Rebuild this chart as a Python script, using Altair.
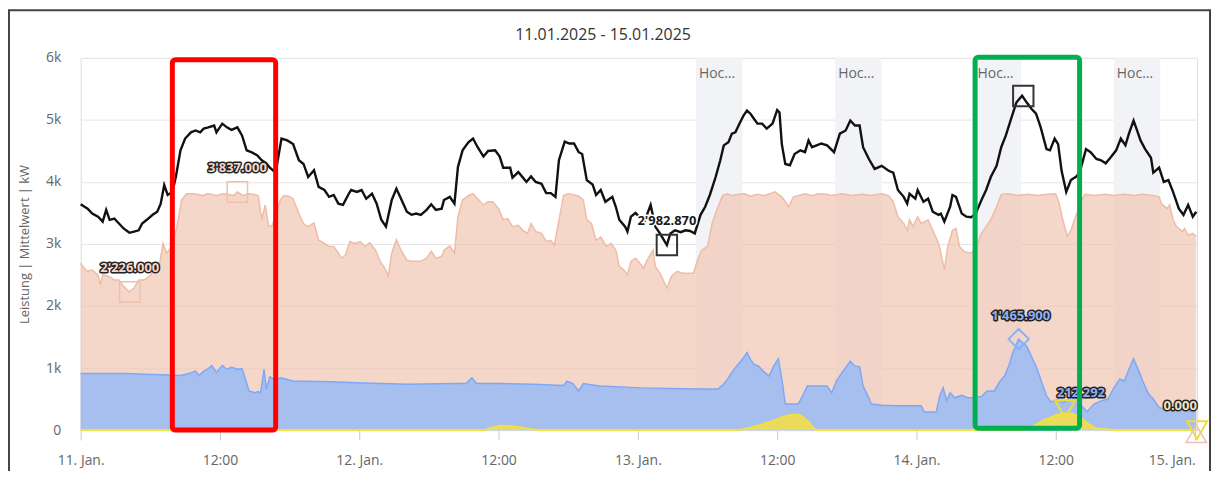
import altair as alt
import pandas as pd

# ---------------- data ----------------
TITLE = "11.01.2025 - 15.01.2025"
Y_TITLE = "Leistung | Mittelwert | kW"
TICK_HOURS = [0, 12, 24, 36, 48, 60, 72, 84, 96]
TICK_LABELS = ["11. Jan.", "12:00", "12. Jan.", "12:00", "13. Jan.", "12:00", "14. Jan.", "12:00", "15. Jan."]
Y_TICKS = [0, 1000, 2000, 3000, 4000, 5000, 6000]
Y_TICK_LABELS = ["0", "1k", "2k", "3k", "4k", "5k", "6k"]
X_MAX = 96.17
Y_MAX = 6000

BAND_START = [53, 65, 77, 89]
BAND_END = [57, 69, 81, 93]
BAND_TEXT = "Hoc\u2026"

BLACK_H = [0.0, 0.6, 1.0, 1.5, 1.9, 2.2, 2.5, 2.9, 3.3, 3.7, 4.2, 4.6, 5.0, 5.3, 5.7, 6.2, 6.6, 6.9, 7.2, 7.5,
           7.9, 8.2, 8.6, 9.0, 9.5, 9.9, 10.3, 10.6, 11.0, 11.5, 11.7, 12.2, 12.6, 13.0, 13.5, 13.9, 14.3, 14.7,
           15.2, 15.6, 16.0, 16.3, 16.8, 17.3, 17.8, 18.3, 18.8, 19.2, 19.6, 20.1, 20.5, 21.0, 21.4, 21.8, 22.2,
           22.6, 23.1, 23.3, 23.8, 24.2, 24.6, 25.1, 25.5, 25.9, 26.3, 26.8, 27.2, 27.6, 28.1, 28.5, 28.9, 29.3,
           29.8, 30.2, 30.6, 31.1, 31.3, 31.8, 32.2, 32.5, 32.9, 33.4, 33.8, 34.2, 34.7, 35.1, 35.7, 36.1, 36.4,
           37.0, 37.2, 37.7, 38.1, 38.4, 38.8, 39.2, 39.7, 40.1, 40.5, 40.9, 41.2, 41.7, 42.1, 42.5, 42.9, 43.2,
           43.6, 44.1, 44.4, 44.8, 45.2, 45.8, 46.1, 46.4, 46.9, 47.1, 47.4, 47.8, 48.1, 48.5, 49.1, 49.5, 49.9,
           50.5, 50.8, 51.2, 51.7, 52.1, 52.5, 52.9, 53.4, 53.8, 54.2, 54.7, 55.1, 55.4, 55.8, 56.1, 56.4, 56.8,
           57.1, 57.4, 57.7, 58.0, 58.3, 58.7, 59.1, 59.6, 60.0, 60.2, 60.4, 60.7, 61.1, 61.5, 62.0, 62.4, 62.7,
           63.0, 63.4, 63.8, 64.3, 64.9, 65.4, 65.9, 66.3, 66.7, 67.1, 67.4, 67.9, 68.4, 69.0, 69.6, 70.0, 70.4,
           70.9, 71.2, 71.4, 71.9, 72.1, 72.6, 73.0, 73.4, 73.9, 74.1, 74.4, 74.9, 75.1, 75.4, 75.9, 76.3, 76.7,
           77.1, 77.6, 78.0, 78.4, 78.9, 79.3, 79.7, 80.1, 80.6, 81.1, 81.5, 81.9, 82.3, 82.7, 83.2, 83.5, 83.9,
           84.2, 84.5, 84.9, 85.3, 85.8, 86.1, 86.6, 87.0, 87.5, 87.9, 88.3, 88.7, 89.2, 89.6, 90.0, 90.3, 90.7,
           91.0, 91.3, 91.7, 92.2, 92.4, 92.9, 93.3, 93.7, 94.1, 94.6, 95.0, 95.4, 95.8, 96.1]
BLACK_V = [3640, 3570, 3490, 3440, 3360, 3550, 3390, 3410, 3330, 3250, 3180, 3200, 3220, 3330, 3390, 3470, 3520,
           3650, 3950, 3790, 3840, 4080, 4510, 4700, 4800, 4830, 4800, 4860, 4880, 4910, 4800, 4940, 4880, 4840,
           4880, 4750, 4510, 4480, 4430, 4350, 4300, 4230, 4150, 4700, 4670, 4610, 4350, 4290, 4080, 4190, 3920,
           3870, 3760, 3790, 3650, 3630, 3810, 3870, 3840, 3870, 3730, 3810, 3650, 3390, 3280, 3710, 3890, 3730,
           3520, 3470, 3490, 3470, 3550, 3640, 3550, 3570, 3710, 3760, 3650, 4240, 4510, 4640, 4700, 4560, 4410,
           4500, 4510, 4410, 4230, 4230, 4070, 4160, 4070, 4000, 4090, 4000, 3970, 3820, 3820, 3760, 4350, 4650,
           4620, 4620, 4480, 4450, 4030, 3960, 3790, 3870, 3680, 3760, 3600, 3390, 3280, 3200, 3440, 3500, 3440,
           3330, 3630, 3280, 3170, 2983, 3170, 3220, 3190, 3220, 3210, 3170, 3470, 3600, 3790, 4080, 4350, 4590,
           4640, 4780, 4800, 4960, 5070, 5150, 5100, 5020, 4940, 4940, 4860, 4940, 5160, 5120, 4610, 4290, 4270,
           4450, 4510, 4480, 4670, 4560, 4590, 4620, 4590, 4480, 4780, 4830, 4990, 4910, 4910, 4560, 4370, 4210,
           4260, 4180, 4150, 3870, 3760, 3650, 3810, 3730, 3870, 3680, 3730, 3520, 3470, 3490, 3360, 3600, 3790,
           3760, 3490, 3440, 3430, 3490, 3710, 3870, 4080, 4260, 4560, 4750, 4990, 5280, 5390, 5280, 5180, 5100,
           4880, 4530, 4510, 4700, 4610, 4180, 3840, 4030, 4090, 4180, 4530, 4480, 4370, 4350, 4300, 4390, 4510,
           4700, 4590, 4780, 4990, 4830, 4670, 4530, 4390, 4150, 4230, 4000, 4030, 3840, 3570, 3470, 3630, 3440,
           3520]

SALMON_H = [0.0, 0.3, 0.6, 1.0, 1.5, 1.7, 1.9, 2.4, 2.9, 3.3, 3.7, 4.2, 4.6, 5.0, 5.5, 5.9, 6.3, 6.7, 7.1, 7.4,
            7.8, 8.1, 8.4, 8.7, 9.1, 9.6, 10.0, 10.5, 10.9, 11.3, 11.7, 12.2, 12.6, 13.2, 13.5, 14.0, 14.4, 14.9,
            15.3, 15.6, 15.9, 16.2, 16.5, 16.9, 17.2, 17.5, 17.9, 18.3, 18.8, 19.2, 19.6, 20.1, 20.5, 21.0, 21.4,
            21.8, 22.2, 22.5, 22.8, 23.2, 23.6, 24.1, 24.5, 24.9, 25.4, 25.8, 26.2, 26.5, 26.8, 27.2, 27.6, 28.1,
            28.5, 28.9, 29.3, 29.8, 30.2, 30.6, 31.1, 31.3, 31.8, 32.2, 32.5, 32.9, 33.4, 33.8, 34.2, 34.7, 35.1,
            35.5, 36.0, 36.4, 36.8, 37.2, 37.7, 38.1, 38.5, 38.8, 39.2, 39.7, 40.1, 40.5, 40.8, 41.1, 41.6, 42.0,
            42.4, 42.9, 43.3, 43.6, 44.0, 44.4, 44.8, 45.3, 45.7, 46.1, 46.4, 46.8, 47.1, 47.4, 47.8, 48.3, 48.5,
            48.8, 49.3, 49.5, 49.9, 50.5, 50.9, 51.4, 51.8, 52.3, 52.8, 53.1, 53.5, 54.0, 54.4, 54.8, 55.3, 55.7,
            56.1, 56.7, 57.2, 57.7, 58.3, 58.8, 59.4, 59.8, 60.4, 61.0, 61.4, 61.8, 62.4, 63.0, 63.5, 64.3, 64.7,
            65.6, 66.4, 67.3, 68.1, 69.0, 69.6, 70.0, 70.4, 70.9, 71.2, 71.4, 71.7, 72.1, 72.4, 73.0, 73.4, 73.9,
            74.1, 74.4, 74.7, 75.1, 75.4, 75.7, 76.1, 76.7, 77.1, 77.6, 78.0, 78.4, 78.9, 79.3, 79.9, 80.7, 81.6,
            82.4, 83.3, 84.0, 84.3, 84.6, 85.0, 85.3, 85.8, 86.2, 86.5, 87.3, 88.2, 89.0, 89.9, 90.7, 91.5, 92.4,
            92.9, 93.1, 93.6, 93.8, 94.1, 94.4, 94.9, 95.1, 95.4, 95.8, 96.1]
SALMON_V = [2690, 2610, 2560, 2580, 2500, 2340, 2500, 2480, 2420, 2420, 2320, 2226, 2290, 2420, 2420, 2480, 2560,
            2580, 3010, 2850, 2950, 3100, 3390, 3710, 3810, 3810, 3800, 3780, 3810, 3800, 3780, 3810, 3800, 3780,
            3837, 3780, 3810, 3800, 3780, 3390, 3630, 3280, 3300, 3500, 3710, 3780, 3770, 3730, 3490, 3330, 3280,
            3340, 3060, 3010, 2960, 2960, 2850, 2770, 2820, 3040, 3010, 3040, 2960, 3020, 2900, 2720, 2610, 2480,
            2850, 3070, 2900, 2740, 2720, 2720, 2720, 2770, 2880, 2770, 2800, 2900, 2970, 2850, 3440, 3710, 3780,
            3810, 3730, 3630, 3680, 3680, 3570, 3390, 3410, 3280, 3300, 3220, 3170, 3330, 3200, 3170, 3040, 3060,
            2980, 3280, 3780, 3810, 3800, 3770, 3710, 3390, 3330, 3060, 3110, 2960, 3010, 2900, 2640, 2580, 2500,
            2720, 2770, 2660, 2610, 2740, 2900, 2640, 2530, 2290, 2480, 2560, 2530, 2530, 2530, 2720, 2900, 2960,
            3330, 3550, 3780, 3810, 3780, 3800, 3810, 3770, 3800, 3780, 3810, 3840, 3760, 3600, 3760, 3780, 3810,
            3780, 3810, 3800, 3780, 3810, 3780, 3800, 3780, 3810, 3780, 3680, 3440, 3330, 3220, 3390, 3280, 3440,
            3330, 3390, 3220, 3010, 2850, 2580, 2960, 3220, 3250, 2960, 2880, 2850, 2930, 3170, 3280, 3390, 3600,
            3800, 3810, 3780, 3800, 3780, 3800, 3810, 3650, 3390, 3120, 3220, 3490, 3700, 3800, 3780, 3800, 3780,
            3800, 3780, 3800, 3780, 3760, 3650, 3570, 3630, 3390, 3280, 3200, 3250, 3140, 3170, 3120]

BLUE_H = [0.0, 2.6, 4.0, 5.5, 6.9, 8.6, 9.1, 9.6, 9.9, 10.2, 10.6, 11.0, 11.3, 11.7, 12.2, 12.6, 13.0, 13.5,
          13.9, 14.2, 14.5, 15.0, 15.3, 15.5, 15.8, 16.0, 16.3, 16.6, 17.3, 18.3, 21.5, 24.4, 28.2, 32.2, 33.2,
          33.7, 34.1, 36.1, 39.0, 41.6, 41.9, 42.4, 42.9, 43.3, 44.7, 48.3, 50.7, 53.5, 54.9, 55.4, 55.8, 56.1,
          56.5, 57.0, 57.4, 57.7, 58.0, 58.4, 58.8, 59.3, 59.7, 60.1, 60.4, 60.7, 61.3, 61.8, 62.1, 62.6, 63.1,
          63.7, 64.3, 64.7, 65.1, 65.6, 66.0, 66.3, 66.7, 67.1, 67.4, 67.9, 68.1, 69.0, 70.4, 72.4, 72.7, 73.7,
          74.0, 74.3, 74.6, 74.9, 75.3, 75.9, 76.4, 77.0, 77.6, 78.1, 78.7, 79.2, 79.6, 80.0, 80.3, 80.8, 81.5,
          81.9, 82.3, 82.7, 83.2, 83.6, 84.2, 84.6, 85.2, 85.6, 86.2, 86.7, 87.3, 87.9, 88.5, 89.0, 89.5, 89.9,
          90.3, 90.7, 91.2, 91.6, 92.0, 92.4, 92.9, 93.6, 94.7, 95.8, 96.1]
BLUE_V = [910, 910, 910, 900, 890, 880, 900, 930, 950, 880, 950, 990, 1040, 930, 1040, 980, 1010, 980, 990, 820,
          630, 600, 620, 600, 980, 660, 860, 820, 840, 790, 780, 760, 740, 750, 750, 840, 750, 750, 740, 720, 790,
          750, 630, 750, 710, 680, 670, 660, 660, 740, 840, 930, 1030, 1140, 1250, 1140, 1060, 1030, 950, 870, 1030,
          1150, 820, 420, 420, 420, 520, 710, 710, 710, 710, 600, 790, 930, 1030, 1110, 1030, 1020, 710, 520, 420,
          400, 390, 390, 290, 290, 550, 680, 470, 600, 520, 560, 520, 520, 540, 630, 630, 790, 870, 1060, 1250,
          1466, 1350, 1190, 1030, 820, 550, 450, 500, 440, 500, 550, 390, 300, 420, 470, 500, 680, 820, 790, 980,
          1150, 930, 740, 580, 500, 360, 340, 340, 300, 300]

YELLOW_H = [0.0, 34.8, 35.5, 36.2, 37.0, 37.7, 38.5, 39.5, 56.7, 57.5, 58.5, 59.5, 60.5, 61.3, 62.0, 62.6,
            63.2, 63.5, 81.3, 82.0, 83.0, 84.0, 84.8, 85.5, 86.2, 86.8, 87.4, 88.5, 89.0, 96.1]
YELLOW_V = [0, 0, 40, 70, 60, 50, 20, 0, 0, 30, 80, 140, 210, 250, 240, 150, 20, 0, 0, 60, 160, 240, 270, 260,
            190, 100, 30, 10, 0, 0]

# min / max markers
MARK_SERIES = ["salmon", "salmon", "black", "black", "blue", "yellow", "yellow", "salmon"]
MARK_H = [4.23, 13.5, 50.5, 81.2, 80.8, 84.8, 96.17, 96.1]
MARK_V = [2226, 3837, 2983, 5385, 1466, 340, 0, -60]
MARK_TEXT = ["2'226.000", "3'837.000", "2'982.870", "", "1'465.900", "212.292", "0.000", ""]

# highlight boxes
BOX_START = [7.9, 77.05]
BOX_END = [16.8, 86.05]
BOX_LOW = [0, 30]
BOX_HIGH = [5970, 6010]
BOX_COLOR = ["#FF0000", "#00B050"]

# ---------------- styles ----------------
FONT = "Open Sans"
C_SALMON = "#F0C2AE"
C_BLUE_FILL = "#A7BFEE"
C_BLUE_LINE = "#7EA8F5"
C_YELLOW_FILL = "#EADB5C"
C_YELLOW_LINE = "#F0E040"
C_BAND = "#F2F3F6"

SHAPES = {"salmon": "square", "black": "square", "blue": "diamond", "yellow": "triangle-down"}
MARK_SHAPE_OVERRIDE = {7: "triangle-up"}
MARK_STROKE = {"salmon": "#EFC0AC", "black": "#333333", "blue": "#8AB0F5", "yellow": "#EEDC3A"}
LABEL_FILL = ["#F6D6C6", "#F6D6C6", "#1A1A1A", "", "#8FB0F0", "#8FB0F0", "#F2E4C4", ""]
LABEL_OUTLINE = ["#222222", "#222222", "#FFFFFF", "", "#222222", "#222222", "#222222", ""]
LABEL_DX = [0, 0, 0, 0, 2, 16, -17, 0]
LABEL_DY = [-24, -24, -24, 0, -23, -16, -24, 0]

# ---------------- helpers ----------------
def x_expr():
    e = "''"
    for h, lab in reversed(list(zip(TICK_HOURS, TICK_LABELS))):
        e = f"datum.value == {h} ? '{lab}' : ({e})"
    return e

def y_expr():
    e = "''"
    for v, lab in reversed(list(zip(Y_TICKS, Y_TICK_LABELS))):
        e = f"datum.value == {v} ? '{lab}' : ({e})"
    return e

X_SCALE = alt.Scale(domain=[0, X_MAX], nice=False, zero=False)
Y_SCALE = alt.Scale(domain=[0, Y_MAX], nice=False)
X_AXIS = alt.Axis(values=TICK_HOURS, labelExpr=x_expr(), grid=False, domainColor="#CCD6EB",
                  tickColor="#C4CCDA", tickSize=10, labelPadding=14, labelFontSize=14,
                  labelColor="#666666", labelFlush=False, labelOverlap=False, labelFont=FONT,
                  labelAlign={"condition": {"test": f"datum.value == {TICK_HOURS[-1]}", "value": "right"},
                              "value": "center"})
Y_AXIS = alt.Axis(values=Y_TICKS, labelExpr=y_expr(), grid=True, gridColor="#E6E6E6", domain=False,
                  ticks=False, tickSize=0, labelPadding=20, labelFontSize=14, labelColor="#666666",
                  labelFont=FONT, title=Y_TITLE, titleFontSize=13, titleColor="#666666",
                  titleFontWeight="normal", titleFont=FONT, titleX=-49)

def X(field):
    return alt.X(f"{field}:Q", scale=X_SCALE, axis=X_AXIS, title=None)

def Y(field):
    return alt.Y(f"{field}:Q", scale=Y_SCALE, axis=Y_AXIS, title=Y_TITLE)

# ---------------- tables ----------------
bands = pd.DataFrame({"s": BAND_START, "e": BAND_END, "lo": [0] * len(BAND_START),
                      "hi": [Y_MAX] * len(BAND_START), "t": [BAND_TEXT] * len(BAND_START)})
black = pd.DataFrame({"h": BLACK_H, "v": BLACK_V})
salmon = pd.DataFrame({"h": SALMON_H, "v": SALMON_V})
blue = pd.DataFrame({"h": BLUE_H, "v": BLUE_V})
yellow = pd.DataFrame({"h": YELLOW_H, "v": YELLOW_V})

layers = []
layers.append(alt.Chart(bands).mark_rect(color=C_BAND).encode(x=X("s"), x2="e", y=Y("lo"), y2="hi"))
layers.append(alt.Chart(bands).mark_text(align="left", baseline="middle", dx=3, dy=16, fontSize=14,
                                         color="#666666", font=FONT)
              .encode(x=X("s"), y=Y("hi"), text="t:N"))
layers.append(alt.Chart(salmon).mark_area(color=C_SALMON, opacity=0.65).encode(x=X("h"), y=Y("v")))
layers.append(alt.Chart(salmon).mark_line(color="#EFBCA6", strokeWidth=1.5).encode(x=X("h"), y=Y("v")))
layers.append(alt.Chart(blue).mark_area(color=C_BLUE_FILL, opacity=1).encode(x=X("h"), y=Y("v")))
layers.append(alt.Chart(blue).mark_line(color=C_BLUE_LINE, strokeWidth=1.5).encode(x=X("h"), y=Y("v")))
layers.append(alt.Chart(yellow).mark_area(color=C_YELLOW_FILL, opacity=1).encode(x=X("h"), y=Y("v")))
layers.append(alt.Chart(yellow).mark_line(color=C_YELLOW_LINE, strokeWidth=2).encode(x=X("h"), y=Y("v")))
layers.append(alt.Chart(black).mark_line(color="#111111", strokeWidth=2.4).encode(x=X("h"), y=Y("v")))

# markers
for i, ser in enumerate(MARK_SERIES):
    d = pd.DataFrame({"h": [MARK_H[i]], "v": [MARK_V[i]]})
    shape = MARK_SHAPE_OVERRIDE.get(i, SHAPES[ser])
    sw = 2 if ser in ("black", "blue", "yellow") else 1.5
    layers.append(alt.Chart(d).mark_point(shape=shape, filled=False, size=420, color=MARK_STROKE[ser],
                                          strokeWidth=sw, opacity=1).encode(x=X("h"), y=Y("v")))

# labels with outline
for i, txt in enumerate(MARK_TEXT):
    if not txt:
        continue
    d = pd.DataFrame({"h": [MARK_H[i]], "v": [MARK_V[i]], "t": [txt]})
    common = dict(fontSize=13, fontWeight="bold", font=FONT, dx=LABEL_DX[i], dy=LABEL_DY[i],
                  align="center", baseline="middle")
    layers.append(alt.Chart(d).mark_text(fill=LABEL_OUTLINE[i], stroke=LABEL_OUTLINE[i], strokeWidth=3,
                                         strokeJoin="round", **common)
                  .encode(x=X("h"), y=Y("v"), text="t:N"))
    layers.append(alt.Chart(d).mark_text(fill=LABEL_FILL[i], **common)
                  .encode(x=X("h"), y=Y("v"), text="t:N"))

# highlight boxes
boxes = pd.DataFrame({"s": BOX_START, "e": BOX_END, "lo": BOX_LOW, "hi": BOX_HIGH, "c": BOX_COLOR})
for i in range(len(BOX_START)):
    layers.append(alt.Chart(boxes.iloc[[i]]).mark_rect(fillOpacity=0, stroke=BOX_COLOR[i], strokeWidth=5,
                                                       cornerRadius=3)
                  .encode(x=X("s"), x2="e", y=Y("lo"), y2="hi"))

# chart title (as a text mark so the frame does not push it away)
one = alt.Data(values=[{"a": 1}])
layers.append(alt.Chart(one).mark_text(text=TITLE, fontSize=16, color="#333333", font=FONT,
                                       align="center", baseline="middle")
              .encode(x=alt.value(525), y=alt.value(-23)))

# outer frame (screenshot border)
FRAME = "#444444"
layers.append(alt.Chart(one).mark_rule(color=FRAME, strokeWidth=2)
              .encode(x=alt.value(-72), y=alt.value(-48), y2=alt.value(416)))
layers.append(alt.Chart(one).mark_rule(color=FRAME, strokeWidth=2)
              .encode(x=alt.value(1135), y=alt.value(-48), y2=alt.value(416)))
layers.append(alt.Chart(one).mark_rule(color=FRAME, strokeWidth=2)
              .encode(x=alt.value(-73), x2=alt.value(1136), y=alt.value(-48)))

chart = (alt.layer(*layers)
         .properties(width=1122, height=374,
                     padding={"left": 73, "top": 49, "right": 14, "bottom": 40},
                     autosize=alt.AutoSizeParams(type="none"))
         .configure_view(strokeWidth=0)
         .configure(font=FONT, background="white"))

chart.save("out.html", embed_options={"renderer": "svg", "actions": False})
